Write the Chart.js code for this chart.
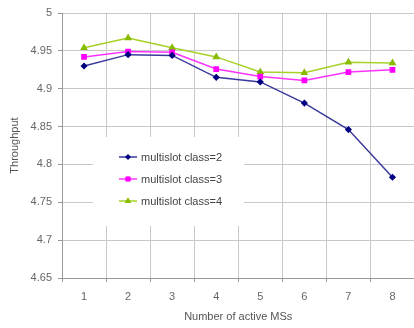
<!DOCTYPE html>
<html>
<head>
<meta charset="utf-8">
<script src="https://cdn.jsdelivr.net/npm/chart.js@4/dist/chart.umd.min.js"></script>
<style>
  html, body { margin: 0; padding: 0; background: #fff; overflow: hidden; }
  #wrap { width: 420px; height: 328px; }
</style>
</head>
<body>
<div id="wrap"><canvas id="tp"></canvas></div>
<script>
const msCounts = ['1', '2', '3', '4', '5', '6', '7', '8'];
const class2 = [4.930, 4.945, 4.944, 4.915, 4.909, 4.881, 4.846, 4.783];
const class3 = [4.942, 4.949, 4.948, 4.926, 4.916, 4.911, 4.922, 4.925];
const class4 = [4.954, 4.967, 4.954, 4.942, 4.922, 4.921, 4.935, 4.934];
const yTicks = [4.65, 4.7, 4.75, 4.8, 4.85, 4.9, 4.95, 5];

const FONT = 'Liberation Sans, Arial, sans-serif';

// legend drawn inside the plot on a white box
const boxLegend = {
    id: 'boxLegend',
    afterDatasetsDraw(chart) {
        const ctx = chart.ctx;
        ctx.save();
        ctx.fillStyle = '#ffffff';
        ctx.fillRect(93, 137, 151, 89);
        chart.data.datasets.forEach((ds, i) => {
            const y = 157 + i * 22;
            ctx.strokeStyle = ds.borderColor;
            ctx.lineWidth = 1.5;
            ctx.beginPath();
            ctx.moveTo(119, y);
            ctx.lineTo(137, y);
            ctx.stroke();
            ctx.fillStyle = ds.backgroundColor;
            ctx.strokeStyle = ds.pointBorderColor;
            ctx.lineWidth = 1;
            Chart.helpers.drawPoint(ctx, {
                pointStyle: ds.pointStyle,
                radius: ds.pointRadius,
                borderWidth: 1
            }, 128, y);
            ctx.fillStyle = '#444';
            ctx.font = '11px ' + FONT;
            ctx.textBaseline = 'middle';
            ctx.fillText(ds.label, 141, y + 0.5);
        });
        ctx.restore();
    }
};

new Chart(document.getElementById('tp').getContext('2d'), {
    type: 'line',
    data: {
        labels: msCounts,
        datasets: [
            {
                label: 'multislot class=2',
                data: class2,
                borderColor: '#3a3a9c',
                backgroundColor: '#000080',
                pointBorderColor: '#000080',
                pointStyle: 'rectRot',
                pointRadius: 2.5,
                borderWidth: 1.5
            },
            {
                label: 'multislot class=3',
                data: class3,
                borderColor: '#ff33ff',
                backgroundColor: '#ff00ff',
                pointBorderColor: '#ff00ff',
                pointStyle: 'rect',
                pointRadius: 3,
                borderWidth: 1.5
            },
            {
                label: 'multislot class=4',
                data: class4,
                borderColor: '#a6d228',
                backgroundColor: '#88bb00',
                pointBorderColor: '#88bb00',
                pointStyle: 'triangle',
                pointRadius: 3,
                borderWidth: 1.5
            }
        ]
    },
    options: {
        responsive: true,
        maintainAspectRatio: false,
        animation: false,
        layout: { padding: { top: 13, right: 2, left: 0, bottom: 0 } },
        plugins: {
            legend: { display: false },
            tooltip: { enabled: false }
        },
        scales: {
            x: {
                offset: true,
                grid: {
                    offset: true,
                    color: '#c8c8c8',
                    tickColor: '#999',
                    tickLength: 4
                },
                border: { color: '#999' },
                ticks: {
                    color: '#666',
                    font: { family: FONT, size: 11 },
                    padding: 8,
                    maxRotation: 0
                },
                title: {
                    display: true,
                    text: 'Number of active MSs',
                    color: '#555',
                    font: { family: FONT, size: 11 },
                    padding: { top: 4, bottom: 4 }
                },
                afterFit(scale) { scale.height = 50; }
            },
            y: {
                min: 4.65,
                max: 5,
                afterBuildTicks(scale) {
                    scale.ticks = yTicks.map(v => ({ value: v }));
                },
                grid: {
                    color: '#c8c8c8',
                    tickColor: '#999',
                    tickLength: 4
                },
                border: { color: '#999' },
                ticks: {
                    color: '#666',
                    font: { family: FONT, size: 11 },
                    padding: 6,
                    callback: v => String(Number(v.toFixed(2)))
                },
                title: {
                    display: true,
                    text: 'Throughput',
                    color: '#555',
                    font: { family: FONT, size: 11 },
                    padding: { top: 8, bottom: 8 }
                },
                afterFit(scale) { scale.width = 62; }
            }
        }
    },
    plugins: [boxLegend]
});
</script>
</body>
</html>
